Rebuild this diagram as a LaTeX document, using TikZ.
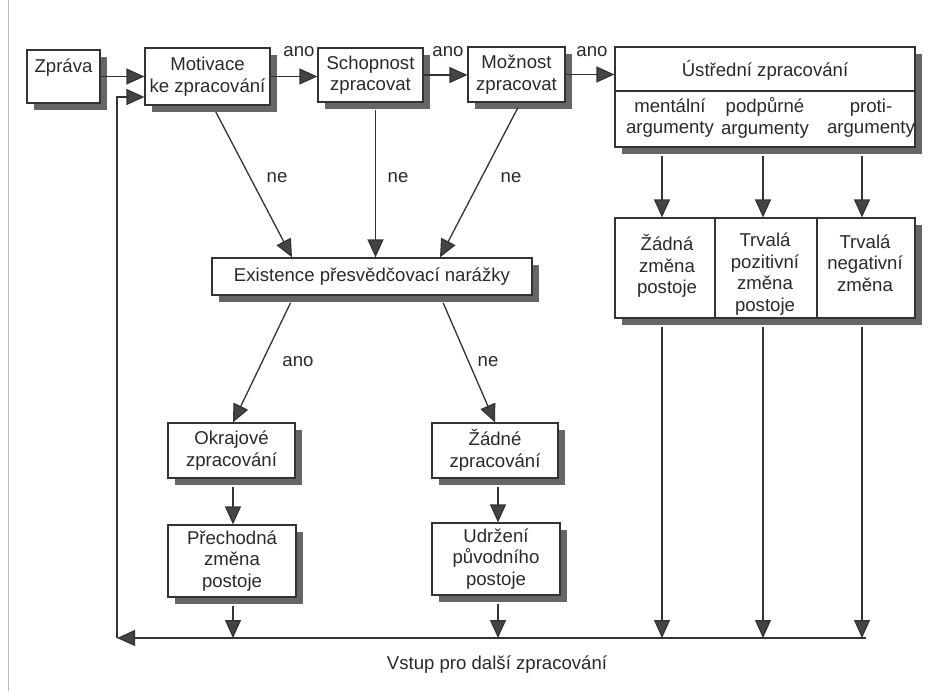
\documentclass[tikz,border=0pt]{standalone}
\usepackage{fontspec}
\setmainfont{Liberation Sans}
\usetikzlibrary{arrows.meta,shadows,calc}
\definecolor{linec}{HTML}{333333}
\definecolor{tipc}{HTML}{444444}
\definecolor{textc}{HTML}{2A2A2A}
\definecolor{shadowc}{HTML}{666666}
\begin{document}
\begin{tikzpicture}[x=1pt,y=-1pt,
  font=\fontsize{18.6}{21.5}\selectfont, text=textc,
  box/.style={draw=linec, line width=1.2pt, fill=white, inner sep=0pt, align=center,
     drop shadow={shadow xshift=7pt, shadow yshift=-7pt, fill=shadowc, opacity=1}},
  plainbox/.style={draw=linec, line width=1.2pt, fill=white, inner sep=0pt},
  lbl/.style={inner sep=0pt, align=center},
  arr/.style={draw=linec, line width=1.3pt, -{Triangle[length=18pt,width=16pt,fill=tipc]}},
  ln/.style={draw=linec, line width=1.2pt}]
\useasboundingbox (0,0) rectangle (934,691);
\fill[white] (0,0) rectangle (934,691);
\draw[gray!55, line width=0.8pt] (8,0) -- (8,691);

% top row
\node[box, minimum width=73, minimum height=53] (zprava) at (63.5,76.5) {Zpráva\\~};
\node[box, minimum width=125, minimum height=57] (motiv) at (207.5,76.5) {Motivace\\ke zpracování};
\node[box, minimum width=105, minimum height=54] (schop) at (370.5,75) {Schopnost\\zpracovat};
\node[box, minimum width=97, minimum height=55] (mozn) at (516.5,74.5) {Možnost\\zpracovat};
\node[box, minimum width=300, minimum height=100] (ustr) at (765,97) {};
\coordinate (dl) at (615,91); \coordinate (dr) at (915,91);
\draw[ln] (dl) -- (dr);
\node[lbl] (ustrt) at (765,70) {Ústřední zpracování};
\node[lbl] (ment) at (670,118) {mentální\\argumenty};
\node[lbl] (podp) at (765,118) {podpůrné\\argumenty};
\node[lbl] (proti) at (871,118) {proti-\\argumenty};

% result boxes
\fill[shadowc] (622,225) rectangle (922,325);
\node[plainbox, minimum width=100, minimum height=100] (z1) at (665,268) {};
\node[plainbox, minimum width=102, minimum height=100] (z2) at (766,268) {};
\node[plainbox, minimum width=98, minimum height=100] (z3) at (866,268) {};
\node[lbl] (z1t) at (667,266) {Žádná\\změna\\postoje};
\node[lbl] (z2t) at (765,274) {Trvalá\\pozitivní\\změna\\postoje};
\node[lbl] (z3t) at (865,263) {Trvalá\\negativní\\změna};

% middle
\node[box, minimum width=320, minimum height=37] (exist) at (372,276.5) {Existence přesvědčovací narážky};
\node[box, minimum width=127, minimum height=55] (okraj) at (231.5,450.5) {Okrajové\\zpracování};
\node[box, minimum width=128, minimum height=72] (prech) at (232,561) {Přechodná\\změna\\postoje};
\node[box, minimum width=126, minimum height=55] (zadne) at (495,450.5) {Žádné\\zpracování};
\node[box, minimum width=128, minimum height=72] (udrz) at (496,559) {Udržení\\původního\\postoje};
\node[lbl] (vstup) at (497,665) {Vstup pro další zpracování};

% labels
\node[lbl] (ano1) at (299,52) {ano};
\node[lbl] (ano2) at (448,52) {ano};
\node[lbl] (ano3) at (592,52) {ano};
\node[lbl] (ne1) at (277,178) {ne};
\node[lbl] (ne2) at (398,178) {ne};
\node[lbl] (ne3) at (511,178) {ne};
\node[lbl] (ano4) at (298,362) {ano};
\node[lbl] (ne4) at (488,362) {ne};

% top arrows
\draw[arr] (zprava.east) -- (zprava.east -| motiv.west);
\draw[arr] (motiv.east) -- (motiv.east -| schop.west);
\draw[arr] (schop.east) -- (schop.east -| mozn.west);
\draw[arr] (mozn.east) -- (mozn.east -| ustr.west);

% ustr to results
\coordinate (c1) at ($(z1.north)+(-3,0)$);
\coordinate (c2) at ($(z2.north)+(-3,0)$);
\coordinate (c3) at ($(z3.north)+(-4,0)$);
\draw[arr, shorten <=8pt] (ustr.south -| c1) -- (c1);
\draw[arr, shorten <=8pt] (ustr.south -| c2) -- (c2);
\draw[arr, shorten <=8pt] (ustr.south -| c3) -- (c3);

% ne arrows
\draw[arr, shorten <=7pt] ($(motiv.south)+(5,0)$) -- ($(exist.north)+(-80,0)$);
\coordinate (s2) at ($(schop.south)+(5,0)$);
\draw[arr, shorten <=7pt] (s2) -- (s2 |- exist.north);
\draw[arr, shorten <=6pt] ($(mozn.south)+(4,0)$) -- ($(exist.north)+(68,0)$);

% existence outcomes
\draw[arr, shorten <=8pt] ($(exist.south)+(-78,0)$) -- ($(okraj.north)+(1.5,0)$);
\draw[arr, shorten <=8pt] ($(exist.south)+(68,0)$) -- (zadne.north);
\draw[arr, shorten <=8pt] ($(okraj.south)+(1.5,0)$) -- ($(prech.north)+(1,0)$);
\draw[arr, shorten <=8pt] ($(zadne.south)+(3,0)$) -- ($(udrz.north)+(2,0)$);

% to bottom line
\coordinate (bl) at (117,638);
\coordinate (br) at (866,638);
\coordinate (fb) at (117,97);
\coordinate (b1) at ($(prech.south)+(1,0)$);
\coordinate (b2) at ($(udrz.south)+(2,0)$);
\coordinate (b3) at ($(z1.south)+(-3,0)$);
\coordinate (b4) at ($(z2.south)+(-3,0)$);
\coordinate (b5) at ($(z3.south)+(-4,0)$);
\draw[arr, shorten <=8pt] (b1) -- (b1 |- bl);
\draw[arr, shorten <=8pt] (b2) -- (b2 |- bl);
\draw[arr, shorten <=8pt] (b3) -- (b3 |- bl);
\draw[arr, shorten <=8pt] (b4) -- (b4 |- bl);
\draw[arr, shorten <=8pt] (b5) -- (b5 |- bl);
\draw[arr] (br) -- (bl);
\draw[arr] (bl) -- (fb) -- (fb -| motiv.west);
\end{tikzpicture}
\end{document}
